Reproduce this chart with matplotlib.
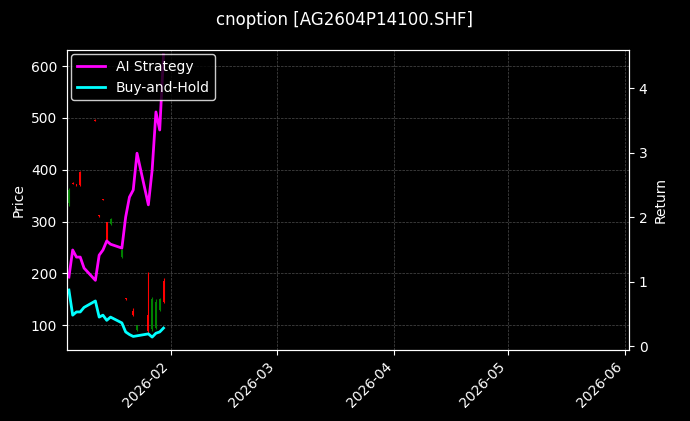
import matplotlib
matplotlib.use("Agg")
import matplotlib.pyplot as plt
import matplotlib.dates as mdates
import pandas as pd

dates = ["2026-01-05","2026-01-06","2026-01-07","2026-01-08","2026-01-09","2026-01-12","2026-01-13",
         "2026-01-14","2026-01-15","2026-01-16","2026-01-19","2026-01-20","2026-01-21","2026-01-22",
         "2026-01-23","2026-01-26","2026-01-27","2026-01-28","2026-01-29","2026-01-30"]
strategy = [1.07,1.49,1.38,1.38,1.21,1.02,1.41,1.49,1.63,1.58,1.52,2.00,2.31,2.42,2.99,2.19,2.73,3.63,3.35,4.51]
buyhold = [0.87,0.48,0.53,0.53,0.60,0.70,0.45,0.48,0.40,0.45,0.36,0.22,0.18,0.15,0.16,0.19,0.14,0.20,0.22,0.28]

c_dates = ["2026-01-05","2026-01-06","2026-01-07","2026-01-08","2026-01-12","2026-01-13","2026-01-14",
           "2026-01-15","2026-01-16","2026-01-19","2026-01-20","2026-01-22","2026-01-23","2026-01-26",
           "2026-01-27","2026-01-28","2026-01-29","2026-01-30"]
c_open  = [335,375,372,395,496,312,343,299,295,231,151,128, 90,120, 92, 95,130,185]
c_high  = [365,376,373,397,497,313,344,300,306,246,152,134,101,202,154,150,152,191]
c_low   = [330,372,369,368,494,309,342,262,294,230,149,118, 89, 85, 88, 92,128,143]
c_close = [360,372,370,370,494,310,342,264,305,245,150,119,100, 88,150,145,150,145]

fig = plt.figure(figsize=(6.9, 4.21), dpi=100, facecolor="black")
ax = fig.add_axes([67/690, 1-350/421, (629-67)/690, 300/421])
ax.set_facecolor("black")
ax2 = ax.twinx()

cd = pd.to_datetime(c_dates)
for d, o, h, l, c in zip(cd, c_open, c_high, c_low, c_close):
    col = "green" if c >= o else "red"
    ax.vlines(d, l, h, color=col, linewidth=0.8)
    ax.bar(d, abs(c - o) if abs(c - o) > 1 else 2, bottom=min(o, c), width=0.5, color=col)

d = pd.to_datetime(dates)
ax2.plot(d, strategy, color="magenta", linewidth=2, label="AI Strategy")
ax2.plot(d, buyhold, color="cyan", linewidth=2, label="Buy-and-Hold")

ax.set_xlim(pd.Timestamp("2026-01-04 12:00"), pd.Timestamp("2026-06-02"))
ax.set_ylim(52, 631)
ax2.set_ylim(-0.06, 4.59)
ax.xaxis.set_major_locator(mdates.MonthLocator())
ax.xaxis.set_major_formatter(mdates.DateFormatter("%Y-%m"))
for lab in ax.get_xticklabels():
    lab.set_rotation(45); lab.set_ha("right")
ax.grid(True, color="gray", linestyle="--", linewidth=0.5, alpha=0.6)
for a in (ax, ax2):
    a.tick_params(colors="white")
    for s in a.spines.values():
        s.set_color("white")
ax.set_ylabel("Price", color="white")
ax2.set_ylabel("Return", color="white")
leg = ax2.legend(loc="upper left", facecolor="black", edgecolor="white",
                 borderaxespad=0.3)
for t in leg.get_texts():
    t.set_color("white")
fig.suptitle("cnoption [AG2604P14100.SHF]", color="white", fontsize=12, y=0.975)
fig.savefig("out.png", facecolor="black")
